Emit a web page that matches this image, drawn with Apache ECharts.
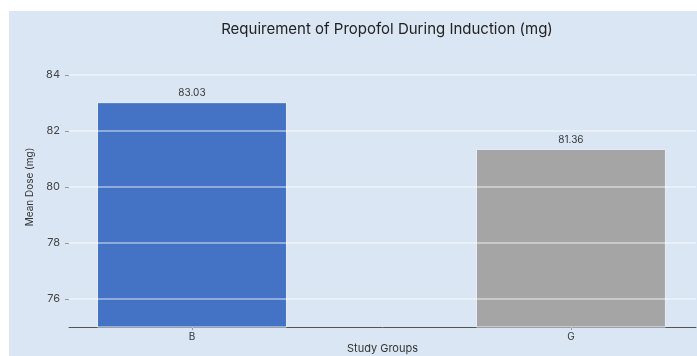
<!DOCTYPE html>
<html>
<head>
<meta charset="utf-8">
<script src="https://cdn.jsdelivr.net/npm/echarts@6/dist/echarts.min.js"></script>
<style>
  html, body { margin: 0; padding: 0; background: #ffffff; }
  #chart { position: absolute; left: 9px; top: 11px; width: 688px; height: 345px; background: #dae6f3; }
</style>
</head>
<body>
<div id="chart"></div>
<script>
// Study groups and their mean propofol induction dose (mg)
const groups = ['B', 'G'];
const meanDose = [83.03, 81.36];
const barColors = ['#4472c4', '#a5a5a5'];
const yTicks = [76, 78, 80, 82, 84];

const FONT = 'Inter, "Open Sans", sans-serif';
const chart = echarts.init(document.getElementById('chart'), null, { renderer: 'canvas' });

const positions = groups.map((_, i) => i);

chart.setOption({
  backgroundColor: 'transparent',
  animation: false,
  title: {
    text: 'Requirement of Propofol During Induction (mg)',
    left: 373, top: 6, textAlign: 'center',
    textStyle: { fontFamily: FONT, fontSize: 15, fontWeight: 'normal', color: '#222' }
  },
  grid: { left: 60, right: 1, top: 36, bottom: 29, outerBoundsMode: 'none', containLabel: false },
  xAxis: {
    type: 'value',
    min: -0.3245, max: 1.33,
    name: 'Study Groups', nameLocation: 'middle', nameGap: 16, nameMoveOverlap: false,
    nameTextStyle: { fontFamily: FONT, fontSize: 11, color: '#333' },
    axisLine: { show: true, onZero: false, lineStyle: { color: '#555', width: 1 } },
    axisTick: { show: true, customValues: positions, length: 3, lineStyle: { color: '#999' } },
    axisLabel: {
      customValues: positions, margin: 5,
      formatter: v => groups[Math.round(v)],
      fontFamily: FONT, fontSize: 10, color: '#333'
    },
    splitLine: { show: false }
  },
  yAxis: {
    type: 'value',
    min: 75, max: 85,
    name: 'Mean Dose (mg)', nameLocation: 'middle', nameGap: 34, nameMoveOverlap: false,
    nameTextStyle: { fontFamily: FONT, fontSize: 10, color: '#333' },
    axisLine: { show: false, onZero: false },
    axisTick: { show: true, customValues: yTicks, length: 4, lineStyle: { color: '#999' } },
    axisLabel: { customValues: yTicks, margin: 9, fontFamily: FONT, fontSize: 11, color: '#444' },
    splitLine: { show: false }
  },
  series: [{
    type: 'bar',
    barWidth: 190,
    data: positions.map(i => ({
      value: [i, meanDose[i]],
      itemStyle: { color: barColors[i], borderColor: '#e8eef6', borderWidth: 1 }
    })),
    label: {
      show: true, position: 'top', distance: 4,
      formatter: p => meanDose[p.dataIndex].toFixed(2),
      fontFamily: FONT, fontSize: 10, color: '#333'
    },
    markLine: {
      silent: true, symbol: 'none', z: 10,
      label: { show: false },
      lineStyle: { color: '#ffffff', type: 'solid', width: 1.5, opacity: 0.55 },
      data: yTicks.map(t => ({ yAxis: t }))
    }
  }]
});
</script>
</body>
</html>
